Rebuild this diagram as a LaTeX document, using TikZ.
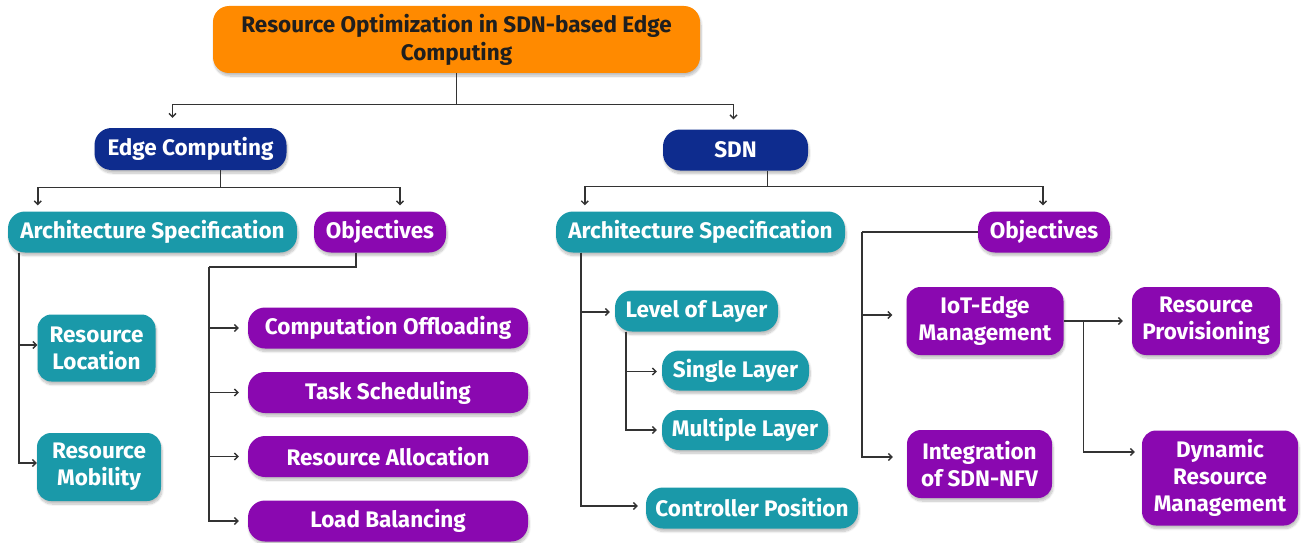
\documentclass[tikz,border=0pt]{standalone}
\usepackage{fontspec}
\setmainfont{Fira Sans}
\usetikzlibrary{arrows.meta,calc,shadows.blur}
\definecolor{rootorange}{HTML}{FF8A00}
\definecolor{navy}{HTML}{0E2C8E}
\definecolor{tealbox}{HTML}{1A99A9}
\definecolor{purplebox}{HTML}{8A08B0}
\definecolor{wire}{HTML}{333333}
\begin{document}
\begin{tikzpicture}[x=1pt,y=-1pt,
  box/.style={rounded corners=17pt, text=white, align=center, inner sep=0pt,
    font=\bfseries\fontsize{22.5}{27}\selectfont,
    blur shadow={shadow blur steps=8, shadow xshift=1pt, shadow yshift=-3pt, shadow opacity=25}},
  sz/.style 2 args={minimum width=#1pt, minimum height=#2pt},
  rootbox/.style={box, fill=rootorange, text=black!88, rounded corners=16pt,
    font=\bfseries\fontsize{22.5}{28}\selectfont},
  mainbox/.style={box, fill=navy},
  archbox/.style={box, fill=tealbox},
  goalbox/.style={box, fill=purplebox},
  tallbox/.style={rounded corners=14pt},
  ln/.style={draw=wire, line width=1.4pt},
  arr/.style={ln, -{Straight Barb[length=3.5pt,width=7pt]}}]
\useasboundingbox (0,0) rectangle (1304,543);

% root and the two branches
\node[rootbox, sz={487}{67}] (root) at (456.5,39.5) {Resource Optimization in SDN-based Edge\\Computing};
\node[mainbox, sz={192}{42}] (ec) at (190.5,149) {Edge Computing};
\node[mainbox, sz={145}{41}] (sdn) at (735.5,150) {SDN};

% edge computing side
\node[archbox, sz={289}{41}] (asL) at (152.5,232) {Architecture Specification};
\node[goalbox, sz={132}{41}] (obL) at (380,232) {Objectives};
\node[archbox, tallbox, sz={118}{67}] (rloc) at (96.5,348) {Resource\\Location};
\node[archbox, tallbox, sz={124}{68}] (rmob) at (99,467) {Resource\\Mobility};
\node[goalbox, sz={280}{41}] (co) at (388,328) {Computation Offloading};
\node[goalbox, sz={280}{41}] (ts) at (388,392.5) {Task Scheduling};
\node[goalbox, sz={280}{41}] (ra) at (388,456.5) {Resource Allocation};
\node[goalbox, sz={280}{41}] (lb) at (388,521) {Load Balancing};

% SDN side
\node[archbox, sz={289}{41}] (asR) at (700.5,232) {Architecture Specification};
\node[goalbox, sz={132}{41}] (obR) at (1044,232) {Objectives};
\node[archbox, sz={163}{41}] (lol) at (696.5,311) {Level of Layer};
\node[archbox, sz={147}{40}] (sl) at (735.5,370.5) {Single Layer};
\node[archbox, sz={166}{40}] (ml) at (745,430) {Multiple Layer};
\node[archbox, sz={212}{41}] (cp) at (752,508) {Controller Position};
\node[goalbox, tallbox, sz={157}{68}] (iot) at (985,321) {IoT-Edge\\Management};
\node[goalbox, tallbox, sz={145}{68}] (int) at (979.5,464) {Integration\\of SDN-NFV};
\node[goalbox, tallbox, sz={148}{68}] (rp) at (1206,321) {Resource\\Provisioning};
\node[goalbox, tallbox, sz={156}{95}] (drm) at (1220,478) {Dynamic\\Resource\\Management};

% bus points of the objective branches
\coordinate (obLbus) at (209,267);
\coordinate (obRbus) at (862,232);

% root to branches
\draw[arr] (root.south) -- ++(0,31) -| ($(ec.north)+(-18,-10)$);
\draw[arr] ($(root.south)+(0,31)$) -| ($(sdn.north)+(-2,-10)$);

% edge computing to its children
\draw[arr] ($(ec.south)+(30,0)$) -- ++(0,17) -| ($(asL.north west)+(30,-6)$);
\draw[arr] ($(ec.south)+(30,17)$) -| ($(obL.north)+(20,-6)$);

% SDN to its children
\draw[arr] ($(sdn.south)+(32,0)$) -- ++(0,16) -| ($(asR.north west)+(29,-6)$);
\draw[arr] ($(sdn.south)+(32,16)$) -| ($(obR.north)+(-1,-6)$);

% architecture specification (edge computing)
\draw[arr] ($(asL.south west)+(11,0)$) |- ($(rloc.west)+(0,-3)$);
\draw[arr] ($(asL.south west)+(11,0)$) |- ($(rmob.west)+(0,-4)$);

% objectives (edge computing)
\draw[ln] ($(obL.south)+(-24,0)$) |- (obLbus);
\foreach \n in {co,ts,ra,lb}
  \draw[arr] (obLbus) |- ($(\n.west)+(-9,0)$);

% architecture specification (SDN)
\draw[arr] ($(asR.south west)+(25,0)$) |- ($(lol.west)+(-5,1)$);
\draw[arr] ($(asR.south west)+(25,0)$) |- ($(cp.west)+(-8,-2)$);
\draw[arr] ($(lol.south west)+(11,0)$) |- ($(sl.west)+(-5,1)$);
\draw[arr] ($(lol.south west)+(11,0)$) |- ($(ml.west)+(-5,0)$);

% objectives (SDN)
\draw[ln] (obR.west) -- (obRbus);
\draw[arr] (obRbus) |- ($(iot.west)+(-14,-6)$);
\draw[arr] (obRbus) |- ($(int.west)+(-14,-7)$);
\draw[arr] (iot.east) -- ($(rp.west)+(-9,0)$);
\draw[arr] ($(iot.east)+(20,0)$) |- ($(drm.west)+(-7,-26)$);
\end{tikzpicture}
\end{document}
